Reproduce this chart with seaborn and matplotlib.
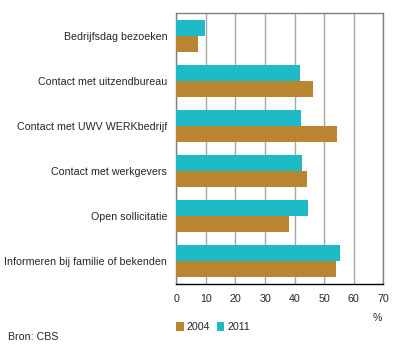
import matplotlib
matplotlib.use("Agg")
import matplotlib.pyplot as plt
from matplotlib.patches import Patch
import seaborn as sns
import pandas as pd

categories = ["Bedrijfsdag bezoeken", "Contact met uitzendbureau", "Contact met UWV WERKbedrijf",
              "Contact met werkgevers", "Open sollicitatie", "Informeren bij familie of bekenden"]
values_2004 = [7.2, 46.2, 54.3, 44.1, 38.0, 54.0]
values_2011 = [9.6, 41.8, 42.1, 42.5, 44.5, 55.3]
years = ["2004", "2011"]
xticks = [0, 10, 20, 30, 40, 50, 60, 70]

colors = {"2004": "#B98530", "2011": "#1EBBC6"}

df = pd.DataFrame({
    "cat": categories * 2,
    "year": ["2004"] * len(categories) + ["2011"] * len(categories),
    "val": values_2004 + values_2011,
})

sns.set_style("white")
plt.rcParams["font.family"] = ["Liberation Sans", "DejaVu Sans"]
fs = 7.7

fig = plt.figure(figsize=(3.96, 3.5), dpi=100)
ax = fig.add_axes([176.3 / 396, 1 - 284 / 350, (383.3 - 176.3) / 396, (284 - 13.3) / 350])

sns.barplot(data=df, y="cat", x="val", hue="year", hue_order=["2011", "2004"],
            order=categories, palette=colors, orient="h", width=0.71,
            saturation=1, linewidth=0, ax=ax, legend=False, zorder=3)

ax.set_xlim(0, 70)
ax.set_ylim(5.5, -0.5)
ax.set_xticks(xticks)
ax.set_xticklabels([str(t) for t in xticks], fontsize=fs)
ax.set_yticklabels(categories, fontsize=fs)
ax.set_xlabel("")
ax.set_ylabel("")
ax.xaxis.grid(True, color="#A6A6A6", linewidth=1.0, zorder=0)
ax.yaxis.grid(False)
ax.set_axisbelow(True)

for s in ["left", "top", "right"]:
    ax.spines[s].set_color("#808080")
    ax.spines[s].set_linewidth(1.0)
ax.spines["bottom"].set_color("black")
ax.spines["bottom"].set_linewidth(1.0)
ax.tick_params(axis="x", direction="out", length=4, width=1, color="black", pad=3)
ax.tick_params(axis="y", length=0, pad=6.5)

fig.text(377 / 396, 1 - 318 / 350, "%", fontsize=fs, ha="center", va="center")
fig.text(8 / 396, 1 - 337 / 350, "Bron: CBS", fontsize=fs, ha="left", va="center")

handles = [Patch(facecolor=colors[y], edgecolor="none", label=y) for y in years]
fig.legend(handles=handles, loc="center left", bbox_to_anchor=(172 / 396, 1 - 327 / 350),
           ncol=2, frameon=False, fontsize=fs, handlelength=0.7, handleheight=0.9,
           handletextpad=0.3, columnspacing=0.6, borderaxespad=0)

fig.savefig("out.png", dpi=100)
